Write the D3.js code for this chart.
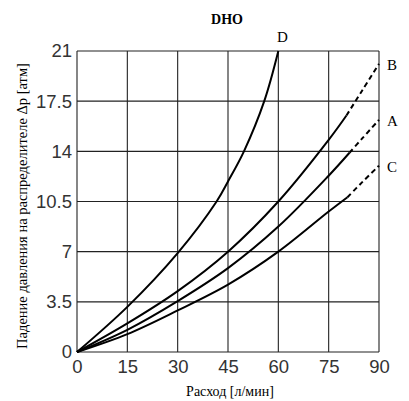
<!DOCTYPE html>
<html>
<head>
<meta charset="utf-8">
<script src="https://cdn.jsdelivr.net/npm/d3@7"></script>
<style>
  body { margin: 0; background: #fff; }
  svg { display: block; }
</style>
</head>
<body>
<svg width="409" height="401"></svg>
<script>
// curve data, flow [л/мин] vs pressure drop [атм]
const xTicks = [0, 15, 30, 45, 60, 75, 90];
const yTicks = [0, 3.5, 7, 10.5, 14, 17.5, 21];
const yTickLabels = ['0', '3.5', '7', '10.5', '14', '17.5', '21'];

const dFlow = [0, 15, 30, 41.6, 45, 49.75, 55.8, 60];
const dDrop = [0, 3.15, 6.9, 10.5, 11.9, 14, 17.5, 21];

const bFlow = [0, 15, 30, 45, 60, 75, 80.3];
const bDrop = [0, 2.0, 4.25, 7.0, 10.5, 14.8, 16.5];
const bDashFlow = [80.3, 85, 90];
const bDashDrop = [16.5, 18.25, 20.1];

const aFlow = [0, 15, 30, 45, 60, 75, 81.2];
const aDrop = [0, 1.55, 3.55, 5.85, 8.75, 12.3, 13.9];
const aDashFlow = [81.2, 85, 90];
const aDashDrop = [13.9, 14.9, 16.2];

const cFlow = [0, 15, 30, 45, 60, 75, 80.6];
const cDrop = [0, 1.25, 2.9, 4.7, 7.0, 9.8, 10.8];
const cDashFlow = [80.6, 85, 90];
const cDashDrop = [10.8, 11.85, 13.0];

const curveLabels = ['D', 'B', 'A', 'C'];
const labelPos = [[60, 21], [90, 20.1], [90, 16.2], [90, 13.0]];

const svg = d3.select('svg');
const margin = { top: 51, right: 30, bottom: 49, left: 77 };
const width = +svg.attr('width');
const height = +svg.attr('height');
const chartWidth = width - margin.left - margin.right;
const chartHeight = height - margin.top - margin.bottom;

const g = svg.append('g')
  .attr('transform', `translate(${margin.left},${margin.top})`);

const x = d3.scaleLinear().domain([0, 90]).range([0, chartWidth]);
const y = d3.scaleLinear().domain([0, 21]).range([chartHeight, 0]);

// grid
g.selectAll('.vgrid').data(xTicks).enter().append('line')
  .attr('x1', d => x(d)).attr('x2', d => x(d))
  .attr('y1', 0).attr('y2', chartHeight)
  .attr('stroke', '#222').attr('stroke-width', 1.1);
g.selectAll('.hgrid').data(yTicks).enter().append('line')
  .attr('x1', 0).attr('x2', chartWidth)
  .attr('y1', d => y(d)).attr('y2', d => y(d))
  .attr('stroke', '#222').attr('stroke-width', 1.1);

// axes (labels only)
const xAxis = g.append('g')
  .attr('transform', `translate(0,${chartHeight})`)
  .call(d3.axisBottom(x).tickValues(xTicks).tickSize(0).tickPadding(8));
const yAxis = g.append('g')
  .call(d3.axisLeft(y).tickValues(yTicks).tickSize(0).tickPadding(5)
    .tickFormat((d, i) => yTickLabels[i]));
[xAxis, yAxis].forEach(a => {
  a.select('.domain').remove();
  a.selectAll('text')
    .attr('font-family', '"Liberation Sans Narrow", "Arial Narrow", sans-serif')
    .attr('font-size', 18.5)
    .attr('fill', '#333');
});

const line = d3.line()
  .x(d => x(d[0]))
  .y(d => y(d[1]))
  .curve(d3.curveCatmullRom.alpha(0.5));

const solid = [[dFlow, dDrop], [bFlow, bDrop], [aFlow, aDrop], [cFlow, cDrop]];
const dashed = [[bDashFlow, bDashDrop], [aDashFlow, aDashDrop], [cDashFlow, cDashDrop]];

g.selectAll('.curve').data(solid).enter().append('path')
  .attr('d', s => line(d3.zip(s[0], s[1])))
  .attr('fill', 'none').attr('stroke', '#000').attr('stroke-width', 2);

g.selectAll('.dash').data(dashed).enter().append('path')
  .attr('d', s => line(d3.zip(s[0], s[1])))
  .attr('fill', 'none').attr('stroke', '#000').attr('stroke-width', 2)
  .attr('stroke-dasharray', '5,3.5');

// curve labels
g.selectAll('.clabel').data(curveLabels).enter().append('text')
  .attr('x', (d, i) => i === 0 ? x(labelPos[i][0]) + 4 : x(labelPos[i][0]) + 8)
  .attr('y', (d, i) => i === 0 ? y(labelPos[i][1]) - 9 : y(labelPos[i][1]) + 6)
  .attr('text-anchor', (d, i) => i === 0 ? 'middle' : 'start')
  .attr('font-family', '"Liberation Serif", "Times New Roman", serif')
  .attr('font-size', 15)
  .text(d => d);

// title
svg.append('text')
  .attr('x', 227).attr('y', 24)
  .attr('text-anchor', 'middle')
  .attr('font-family', '"Liberation Serif", "Times New Roman", serif')
  .attr('font-weight', 'bold')
  .attr('font-size', 14)
  .text('DHO');

// axis titles
svg.append('text')
  .attr('x', 230).attr('y', 396)
  .attr('text-anchor', 'middle')
  .attr('font-family', '"Liberation Serif", "Times New Roman", serif')
  .attr('font-size', 14)
  .text('Расход [л/мин]');

svg.append('text')
  .attr('transform', 'translate(27,206) rotate(-90)')
  .attr('text-anchor', 'middle')
  .attr('font-family', '"Liberation Serif", "Times New Roman", serif')
  .attr('font-size', 14.5)
  .text('Падение давления на распределителе Δp [атм]');
</script>
</body>
</html>
